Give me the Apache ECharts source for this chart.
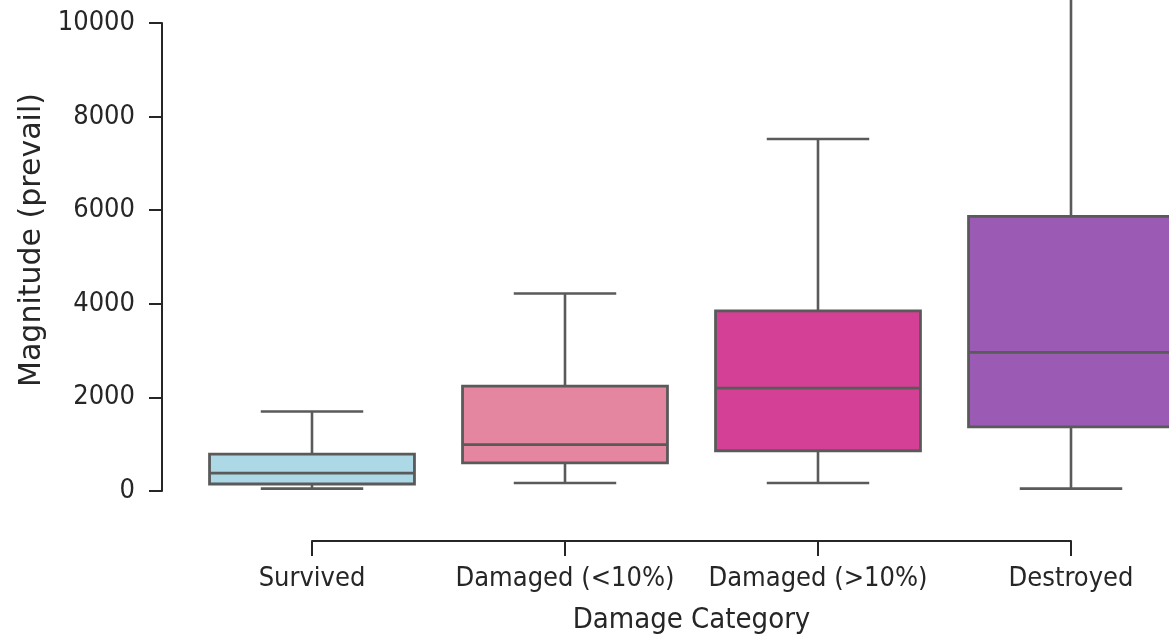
<!DOCTYPE html>
<html>
<head>
<meta charset="utf-8">
<script src="https://cdn.jsdelivr.net/npm/echarts@6/dist/echarts.min.js"></script>
<style>
html,body{margin:0;padding:0;background:#fff;}
#chart{width:1169px;height:636px;}
</style>
</head>
<body>
<div id="chart"></div>
<script>
// Data
const categories = ['Survived', 'Damaged (<10%)', 'Damaged (>10%)', 'Destroyed'];
const whiskerLow  = [50, 170, 170, 50];
const q1Values    = [150, 600, 860, 1370];
const medians     = [380, 990, 2200, 2960];
const q3Values    = [790, 2240, 3850, 5870];
const whiskerHigh = [1700, 4220, 7520, 11500];
const boxColors   = ['#add8e6', '#e586a1', '#d44096', '#9b5ab4'];
const yTicks = [0, 2000, 4000, 6000, 8000, 10000];

const LINE = '#5a5a5a';
const TEXT = '#262626';

const data = categories.map((c, i) => [i, whiskerLow[i], q1Values[i], medians[i], q3Values[i], whiskerHigh[i]]);

const chart = echarts.init(document.getElementById('chart'), null, {renderer: 'canvas'});

function renderItem(params, api) {
  const idx = api.value(0);
  const band = api.size([1, 0])[0];
  const half = band * 0.81 / 2;
  const capHalf = half / 2;
  const x = api.coord([idx, 0])[0];
  const yMin = api.coord([idx, api.value(1)])[1];
  const yQ1 = api.coord([idx, api.value(2)])[1];
  const yMed = api.coord([idx, api.value(3)])[1];
  const yQ3 = api.coord([idx, api.value(4)])[1];
  const yMax = api.coord([idx, api.value(5)])[1];
  const lineStyle = {stroke: LINE, lineWidth: 2.6, fill: null};
  return {
    type: 'group',
    children: [
      {type: 'line', shape: {x1: x, y1: yQ3, x2: x, y2: yMax}, style: lineStyle},
      {type: 'line', shape: {x1: x, y1: yQ1, x2: x, y2: yMin}, style: lineStyle},
      {type: 'line', shape: {x1: x - capHalf, y1: yMax, x2: x + capHalf, y2: yMax}, style: lineStyle},
      {type: 'line', shape: {x1: x - capHalf, y1: yMin, x2: x + capHalf, y2: yMin}, style: lineStyle},
      {type: 'rect', shape: {x: x - half, y: yQ3, width: half * 2, height: yQ1 - yQ3},
        style: {fill: boxColors[idx], stroke: LINE, lineWidth: 2.8}},
      {type: 'line', shape: {x1: x - half, y1: yMed, x2: x + half, y2: yMed}, style: {stroke: LINE, lineWidth: 2.8}}
    ]
  };
}

chart.setOption({
  animation: false,
  backgroundColor: '#ffffff',
  grid: {left: 312, right: 98, top: 23, bottom: 145, containLabel: false, outerBoundsMode: 'none'},
  xAxis: {
    type: 'category',
    data: categories,
    boundaryGap: false,
    offset: 50,
    name: 'Damage Category',
    nameLocation: 'middle',
    nameGap: 65,
    nameTextStyle: {fontFamily: 'DejaVu Sans Condensed, DejaVu Sans', fontSize: 29, color: TEXT},
    axisLine: {onZero: false, lineStyle: {color: TEXT, width: 2}},
    axisTick: {length: 15, lineStyle: {color: TEXT, width: 2}, alignWithLabel: true},
    axisLabel: {fontFamily: 'DejaVu Sans Condensed, DejaVu Sans', fontSize: 27, color: TEXT, margin: 24, interval: 0},
    splitLine: {show: false}
  },
  yAxis: {
    type: 'value',
    min: 0,
    max: 10000,
    interval: 2000,
    offset: 150,
    name: 'Magnitude (prevail)',
    nameLocation: 'middle',
    nameGap: 112,
    nameTextStyle: {fontFamily: 'DejaVu Sans', fontSize: 30, color: TEXT, padding: [0, 0, 0, 34]},
    axisLine: {show: true, onZero: false, lineStyle: {color: TEXT, width: 2}},
    axisTick: {show: true, length: 13, lineStyle: {color: TEXT, width: 2}},
    axisLabel: {fontFamily: 'DejaVu Sans Condensed, DejaVu Sans', fontSize: 27, color: TEXT, margin: 27,
      formatter: v => yTicks.indexOf(v) >= 0 ? String(v) : ''},
    splitLine: {show: false}
  },
  series: [{
    type: 'custom',
    renderItem: renderItem,
    clip: false,
    encode: {x: 0, y: [1, 2, 3, 4, 5]},
    data: data
  }]
});
</script>
</body>
</html>
